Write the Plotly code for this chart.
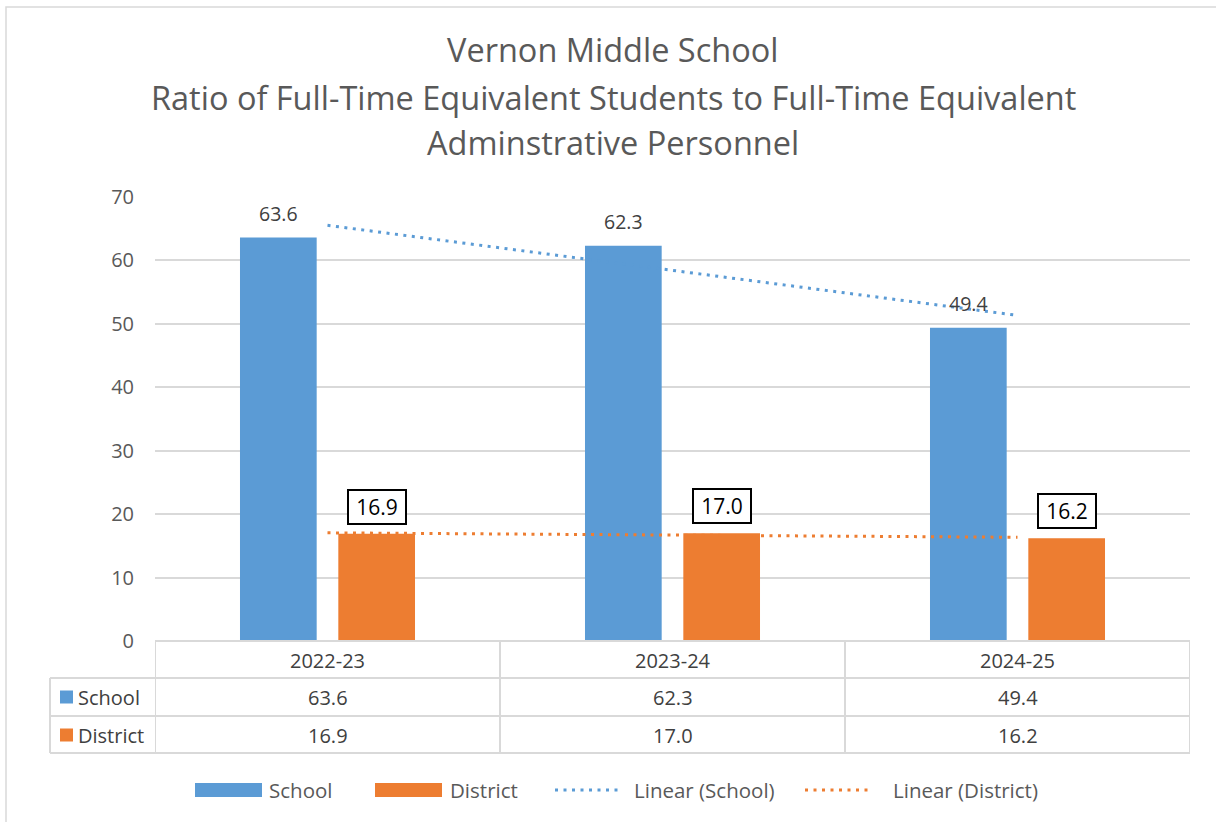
import numpy as np
import plotly.graph_objects as go

# ---------------- data ----------------
categories = ["2022-23", "2023-24", "2024-25"]
school = [63.6, 62.3, 49.4]
district = [16.9, 17.0, 16.2]
series_names = ["School", "District"]
trend_names = ["Linear (School)", "Linear (District)"]
y_ticks = [0, 10, 20, 30, 40, 50, 60, 70]
title_lines = [
    "Vernon Middle School",
    "Ratio of Full-Time Equivalent Students to Full-Time Equivalent",
    "Adminstrative Personnel",
]

# ---------------- styles ----------------
BLUE = "#5B9BD5"
ORANGE = "#ED7D31"
GRID = "#D9D9D9"
TXT = "#595959"
DARK = "#404040"
FONT = "Open Sans"
DOT = "3px,5.5px"

W, H = 1216, 822
L, R, T, B = 155, 26, 197, 181
PW, PH = W - L - R, H - T - B


def px(x):
    return (x - L) / PW


def py(y):
    return (H - B - y) / PH


BARGAP = 0.43
GROUPGAP = 0.22
OFF = (1 - BARGAP) / 4  # centre offset of each bar within a group

idx = np.arange(len(categories))
fit_s = np.polyval(np.polyfit(idx, school, 1), idx)
fit_d = np.polyval(np.polyfit(idx, district, 1), idx)

fig = go.Figure()
fig.add_trace(go.Bar(x=categories, y=school, name=series_names[0],
                     marker=dict(color=BLUE, line=dict(width=0))))
fig.add_trace(go.Bar(x=categories, y=district, name=series_names[1],
                     marker=dict(color=ORANGE, line=dict(width=0))))
fig.add_trace(go.Scatter(x=categories, y=fit_s, mode="lines", name=trend_names[0],
                         line=dict(color=BLUE, width=3, dash=DOT)))
fig.add_trace(go.Scatter(x=categories, y=fit_d, mode="lines", name=trend_names[1],
                         line=dict(color=ORANGE, width=3, dash=DOT)))

annotations = []
shapes = []

# title
for i, (line, yy) in enumerate(zip(title_lines, [50, 97, 142])):
    annotations.append(dict(text=line, xref="paper", yref="paper", x=px(613), y=py(yy),
                            xanchor="center", yanchor="middle", showarrow=False,
                            font=dict(family=FONT, size=32.5, color=TXT)))

# data labels
for i, v in enumerate(school):
    annotations.append(dict(text=f"{v:.1f}", xref="x", yref="y", x=i - OFF, y=v,
                            xanchor="center", yanchor="bottom", yshift=9, showarrow=False,
                            font=dict(family=FONT, size=19.5, color=DARK)))
for i, v in enumerate(district):
    annotations.append(dict(text=f"{v:.1f}", xref="x", yref="y", x=i + OFF, y=v,
                            xanchor="center", yanchor="bottom", yshift=9, showarrow=False,
                            bordercolor="#000000", borderwidth=2, borderpad=3,
                            width=50, height=26, align="center", valign="middle",
                            bgcolor="#FFFFFF",
                            font=dict(family=FONT, size=21, color="#000000")))

# data table
row_lines = [641, 678, 716, 753]
row_centers = [660, 697, 735]
TF = 20
for i, c in enumerate(categories):
    annotations.append(dict(text=c, xref="x", yref="paper", x=i, y=py(row_centers[0]),
                            showarrow=False, xanchor="center", yanchor="middle",
                            font=dict(family=FONT, size=TF, color=DARK)))
    for r, vals in enumerate([school, district]):
        annotations.append(dict(text=f"{vals[i]:.1f}", xref="x", yref="paper", x=i,
                                y=py(row_centers[r + 1]), showarrow=False,
                                xanchor="center", yanchor="middle",
                                font=dict(family=FONT, size=TF, color=DARK)))
for r, (name, col) in enumerate(zip(series_names, [BLUE, ORANGE])):
    yc = row_centers[r + 1]
    shapes.append(dict(type="rect", xref="paper", yref="paper", x0=px(60), x1=px(73),
                       y0=py(yc - 6.5), y1=py(yc + 6.5), fillcolor=col, line=dict(width=0)))
    annotations.append(dict(text=name, xref="paper", yref="paper", x=px(76), y=py(yc),
                            showarrow=False, xanchor="left", yanchor="middle",
                            font=dict(family=FONT, size=TF, color=DARK)))

lw = dict(color=GRID, width=2)
shapes.append(dict(type="line", xref="paper", yref="paper", x0=0, x1=1,
                   y0=py(row_lines[0]), y1=py(row_lines[0]), line=lw))
for yy in row_lines[1:]:
    shapes.append(dict(type="line", xref="paper", yref="paper", x0=px(50), x1=1,
                       y0=py(yy), y1=py(yy), line=lw))
shapes.append(dict(type="line", xref="paper", yref="paper", x0=px(50), x1=px(50),
                   y0=py(row_lines[1]), y1=py(row_lines[-1]), line=lw))
for k in range(len(categories) + 1):
    shapes.append(dict(type="line", xref="x", yref="paper", x0=k - 0.5, x1=k - 0.5,
                       y0=py(row_lines[0]), y1=py(row_lines[-1]), line=lw))

# bottom legend
LY = 790
leg = [
    ("rect", BLUE, series_names[0], 195, 262, 267),
    ("rect", ORANGE, series_names[1], 375, 442, 448),
    ("line", BLUE, trend_names[0], 555, 622, 632),
    ("line", ORANGE, trend_names[1], 805, 872, 891),
]
for kind, col, name, a, b, t in leg:
    if kind == "rect":
        shapes.append(dict(type="rect", xref="paper", yref="paper", x0=px(a), x1=px(b),
                           y0=py(LY - 7), y1=py(LY + 7), fillcolor=col, line=dict(width=0)))
    else:
        shapes.append(dict(type="line", xref="paper", yref="paper", x0=px(a), x1=px(b),
                           y0=py(LY), y1=py(LY), line=dict(color=col, width=3, dash=DOT)))
    annotations.append(dict(text=name, xref="paper", yref="paper", x=px(t), y=py(LY),
                            showarrow=False, xanchor="left", yanchor="middle",
                            font=dict(family=FONT, size=20.5, color=TXT)))

# outer chart border
shapes.append(dict(type="rect", xref="paper", yref="paper", x0=px(6), x1=px(1240),
                   y0=py(7), y1=py(850), line=dict(color=GRID, width=1.5),
                   fillcolor="rgba(0,0,0,0)", layer="below"))

fig.update_layout(
    width=W, height=H,
    margin=dict(l=L, r=R, t=T, b=B, pad=0),
    paper_bgcolor="white", plot_bgcolor="white",
    barmode="group", bargap=BARGAP, bargroupgap=GROUPGAP,
    showlegend=False,
    font=dict(family=FONT, color=TXT),
    xaxis=dict(type="category", range=[-0.5, 2.5], showticklabels=False,
               showgrid=False, zeroline=False, showline=False, ticks=""),
    yaxis=dict(range=[0, 70], tickvals=y_ticks, showgrid=True, gridcolor=GRID,
               gridwidth=1.5, zeroline=False, showline=False, ticks="",
               ticklabelstandoff=20,
               tickfont=dict(family=FONT, size=20, color=TXT)),
    annotations=annotations,
    shapes=shapes,
)

fig.write_html(
    "out.html",
    config={"displayModeBar": False},
    post_script="document.body.style.margin='0';document.body.style.overflow='hidden';",
)
